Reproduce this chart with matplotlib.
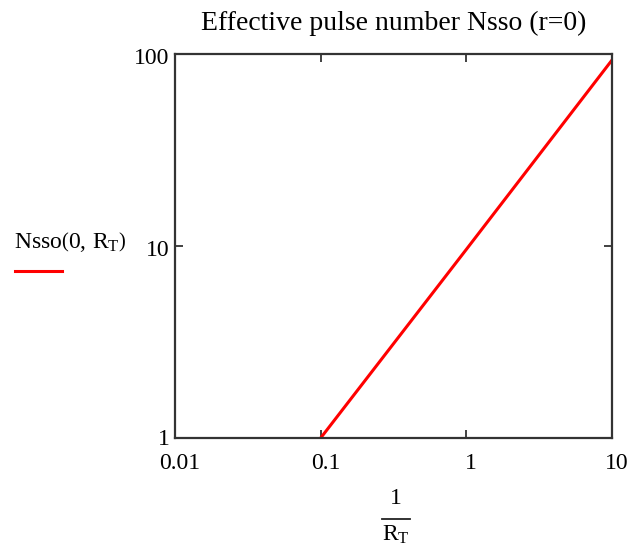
import matplotlib
matplotlib.use("Agg")
import matplotlib.pyplot as plt
from matplotlib.lines import Line2D
from matplotlib.transforms import ScaledTranslation

plt.rcParams['font.family'] = ['Liberation Serif', 'DejaVu Serif']
plt.rcParams['mathtext.fontset'] = 'custom'
plt.rcParams['mathtext.rm'] = 'Liberation Serif'
plt.rcParams['mathtext.it'] = 'Liberation Serif:italic'

# data
inv_rt = [0.1, 1.0, 10.0]
nsso = [1.0, 9.6, 93.0]
xticks = [0.01, 0.1, 1, 10]
xticklabels = ['0.01', '0.1', '1', '10']
yticks = [1, 10, 100]
yticklabels = ['1', '10', '100']
title = 'Effective pulse number Nsso (r=0)'

W, H = 632, 549
fig = plt.figure(figsize=(W/100, H/100), dpi=100)
ax = fig.add_axes([175/W, 1-438/H, (612-175)/W, (438-54)/H])
ax.plot(inv_rt, nsso, color='#ff0000', lw=2.2)
ax.set_xscale('log'); ax.set_yscale('log')
ax.set_xlim(0.01, 10); ax.set_ylim(1, 100)
ax.minorticks_off()
ax.set_xticks(xticks); ax.set_xticklabels(xticklabels)
ax.set_yticks(yticks); ax.set_yticklabels(yticklabels)
ax.tick_params(direction='in', length=6, width=1.3, top=True, right=True,
               labelsize=17, colors='#333333', labelcolor='black')
ax.tick_params(axis='x', pad=11)
ax.tick_params(axis='y', pad=4)
for s in ax.spines.values():
    s.set_linewidth(1.6); s.set_color('#333333')

for lbl in ax.get_xticklabels():
    lbl.set_transform(lbl.get_transform() + ScaledTranslation(5/100, 0, fig.dpi_scale_trans))
for lbl in ax.get_yticklabels()[1:]:
    lbl.set_transform(lbl.get_transform() + ScaledTranslation(0, -2/100, fig.dpi_scale_trans))
ylab0 = ax.get_yticklabels()[0]
ylab0.set_transform(ylab0.get_transform() + ScaledTranslation(0, 1/100, fig.dpi_scale_trans))

fig.text(394/W, 1-23/H, title, fontsize=20, ha='center', va='center')

# y label with legend line
fig.text(14/W, 1-242/H, r'Nsso$\left(0,\,\mathrm{R_T}\right)$', fontsize=17, va='center', ha='left')
fig.add_artist(Line2D([15/W, 62/W], [1-271/H, 1-271/H], color='#ff0000', lw=2.2))

# x label fraction
cx = 396/W
fig.text(cx, 1-499/H, '1', fontsize=17, ha='center', va='center')
fig.add_artist(Line2D([cx-14/W, cx+14/W], [1-519/H, 1-519/H], color='#222222', lw=1.3))
fig.text(cx, 1-535/H, r'R$_\mathrm{T}$', fontsize=17, ha='center', va='center')

fig.savefig('out.png', dpi=100, facecolor='white')
